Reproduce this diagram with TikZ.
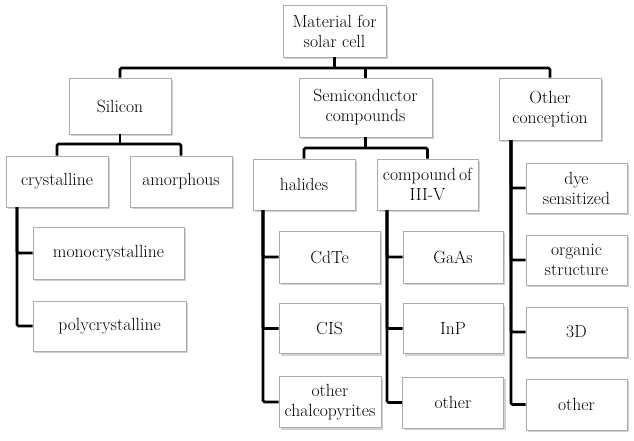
\documentclass[tikz,border=0pt]{standalone}
\usepackage{tikz}
\usetikzlibrary{shadows}

\tikzset{
  box/.style={draw=gray!65, fill=white, line width=0.8pt, align=center, inner sep=1pt,
    font=\fontsize{17.6}{20}\selectfont,
    drop shadow={shadow xshift=2pt, shadow yshift=-2pt, fill=gray!45, opacity=0.8}},
  link/.style={line width=2.8pt, rounded corners=1.5pt}
}

\begin{document}
\begin{tikzpicture}[x=1pt, y=-1pt]
	\useasboundingbox (0,0) rectangle (634,441);

	% Draw the root and the first level
	\node[box, minimum width=103pt, minimum height=52pt] (root) at (334.5,31) {Material for\\solar cell};
	\node[box, minimum width=102pt, minimum height=56pt] (sil) at (120,106) {Silicon};
	\node[box, minimum width=133pt, minimum height=59pt] (semi) at (365.5,107.5) {Semiconductor\\compounds};
	\node[box, minimum width=102pt, minimum height=62pt] (oth) at (550,109) {Other\\conception};

	% Silicon branch
	\node[box, minimum width=102pt, minimum height=51pt] (cry) at (57,181.5) {crystalline};
	\node[box, minimum width=102pt, minimum height=51pt] (amo) at (181,181.5) {amorphous};
	\node[box, minimum width=151pt, minimum height=52pt] (mono) at (108.5,253) {monocrystalline};
	\node[box, minimum width=153pt, minimum height=50pt] (poly) at (109.5,326) {polycrystalline};

	% Semiconductor branch
	\node[box, minimum width=102pt, minimum height=51pt] (hal) at (304,184.5) {halides};
	\node[box, minimum width=101pt, minimum height=51pt] (comp) at (427.5,184.5) {compound\,of\\III-V};
	\node[box, minimum width=101pt, minimum height=52pt] (cdte) at (329.5,257) {CdTe};
	\node[box, minimum width=101pt, minimum height=50pt] (cis) at (329.5,328.5) {CIS};
	\node[box, minimum width=102pt, minimum height=51pt] (chal) at (330,402) {other\\chalcopyrites};
	\node[box, minimum width=100pt, minimum height=52pt] (gaas) at (453,257) {GaAs};
	\node[box, minimum width=100pt, minimum height=50pt] (inp) at (453,328.5) {InP};
	\node[box, minimum width=101pt, minimum height=51pt] (othb) at (453,402.5) {other};

	% Other conception branch
	\node[box, minimum width=101pt, minimum height=50pt] (dye) at (576.5,188) {dye\\sensitized};
	\node[box, minimum width=101pt, minimum height=50pt] (org) at (576.5,260) {organic\\structure};
	\node[box, minimum width=101pt, minimum height=50pt] (three) at (576.5,332) {3D};
	\node[box, minimum width=101pt, minimum height=51pt] (othc) at (576.5,404.5) {other};

	% Bus lines
	\coordinate (bus) at (334.5,68);
	\coordinate (sbus) at (120,144);
	\coordinate (cbus) at (365.5,148);
	\draw[link] (root.south) -- (bus);
	\draw[link] (sil.north) |- (bus) -| (oth.north);
	\draw[link] (semi.north) -- (semi.north |- bus);
	\draw[link] (sil.south) -- (sbus);
	\draw[link] (cry.north) |- (sbus) -| (amo.north);
	\draw[link] (semi.south) -- (cbus);
	\draw[link] (hal.north) |- (cbus) -| (comp.north);

	% Vertical trunks
	\coordinate (ctrunk) at (17,207);
	\coordinate (htrunk) at (263,210);
	\coordinate (gtrunk) at (387,210);
	\coordinate (otrunk) at (511,140);
	\draw[link] (ctrunk) |- (mono.west);
	\draw[link] (ctrunk) |- (poly.west);
	\draw[link] (htrunk) |- (cdte.west);
	\draw[link] (htrunk) |- (cis.west);
	\draw[link] (htrunk) |- (chal.west);
	\draw[link] (gtrunk) |- (gaas.west);
	\draw[link] (gtrunk) |- (inp.west);
	\draw[link] (gtrunk) |- (othb.west);
	\draw[link] (otrunk) |- (dye.west);
	\draw[link] (otrunk) |- (org.west);
	\draw[link] (otrunk) |- (three.west);
	\draw[link] (otrunk) |- (othc.west);
\end{tikzpicture}
\end{document}
